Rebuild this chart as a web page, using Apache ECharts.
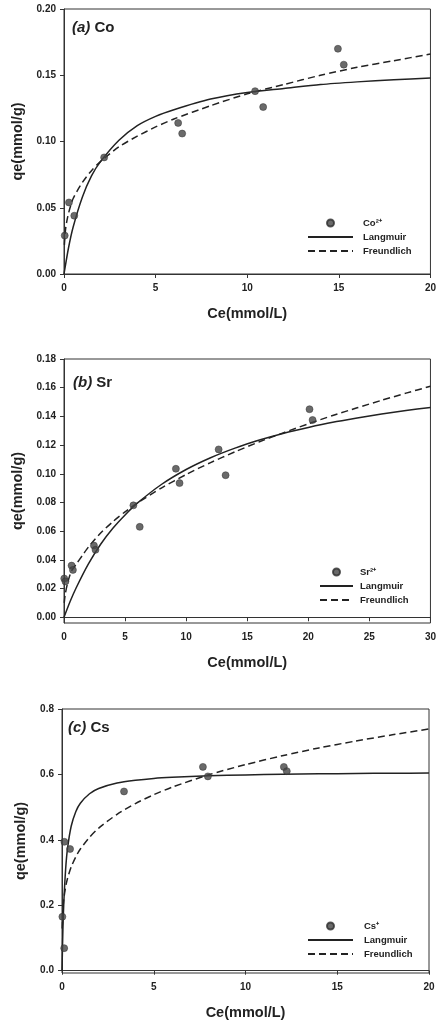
<!DOCTYPE html>
<html>
  <head>
    <meta charset="utf-8" />
    <title>Isotherms</title>
    <script src="https://cdn.jsdelivr.net/npm/echarts@6/dist/echarts.min.js"></script>
  </head>
  <body style="margin:0;background:#fff">
    <style>
      html, body { width: 439px; height: 1022px; }
      #main { width: 439px; height: 1022px; }
    </style>
    <div id="main"></div>
    <script type="text/javascript">
      // (a) Co
      var coCe = [0.04, 0.27, 0.56, 2.19, 6.23, 6.45, 10.43, 10.87, 14.95, 15.27];
      var coQe = [0.029, 0.054, 0.044, 0.088, 0.114, 0.106, 0.138, 0.126, 0.170, 0.158];
      var coLangCe = [0, 0.25, 0.5, 1, 1.5, 2, 3, 4, 5, 6, 8, 10, 12, 14, 16, 18, 20];
      var coLang = [0, 0.020, 0.0355, 0.058, 0.074, 0.085, 0.101, 0.112, 0.119, 0.124, 0.132, 0.137, 0.140, 0.143, 0.145, 0.1466, 0.148];
      var coFreuCe = [0.02, 0.1, 0.25, 0.5, 1, 1.5, 2, 3, 4, 5, 6, 8, 10, 12, 14, 16, 18, 20];
      var coFreu = [0.022, 0.0355, 0.046, 0.057, 0.069, 0.078, 0.085, 0.096, 0.104, 0.111, 0.117, 0.127, 0.136, 0.143, 0.150, 0.156, 0.161, 0.166];

      // (b) Sr
      var srCe = [0.02, 0.12, 0.62, 0.73, 2.45, 2.58, 5.68, 6.2, 9.16, 9.46, 12.66, 13.23, 20.1, 20.35];
      var srQe = [0.027, 0.025, 0.036, 0.033, 0.050, 0.047, 0.078, 0.063, 0.1035, 0.0935, 0.117, 0.099, 0.145, 0.1375];
      var srLangCe = [0, 0.5, 1, 2, 3, 4, 5, 6, 8, 10, 12, 14, 16, 18, 20, 22, 24, 26, 28, 30];
      var srLang = [0, 0.011, 0.0206, 0.0372, 0.0509, 0.062, 0.0713, 0.0795, 0.0927, 0.103, 0.1112, 0.1179, 0.1235, 0.1283, 0.1323, 0.1359, 0.1389, 0.1417, 0.1441, 0.1462];
      var srFreuCe = [0.02, 0.1, 0.3, 0.6, 1, 1.5, 2, 3, 4, 5, 6, 8, 10, 12, 14, 16, 18, 20, 22, 24, 26, 28, 30];
      var srFreu = [0.010, 0.016, 0.024, 0.032, 0.037, 0.043, 0.049, 0.0587, 0.0666, 0.0735, 0.0796, 0.0902, 0.0995, 0.1078, 0.1153, 0.1223, 0.1287, 0.1348, 0.1406, 0.146, 0.1512, 0.1562, 0.161];

      // (c) Cs
      var csCe = [0.02, 0.12, 0.13, 0.44, 3.38, 7.68, 7.95, 12.09, 12.25];
      var csQe = [0.165, 0.069, 0.394, 0.372, 0.548, 0.623, 0.594, 0.623, 0.610];
      var csLangCe = [0, 0.05, 0.1, 0.2, 0.3, 0.5, 0.75, 1, 1.5, 2, 3, 4, 5, 6, 8, 10, 12, 14, 16, 18, 20];
      var csLang = [0, 0.127, 0.210, 0.312, 0.373, 0.4415, 0.486, 0.512, 0.541, 0.557, 0.5735, 0.582, 0.5876, 0.591, 0.5958, 0.5986, 0.6004, 0.6018, 0.6028, 0.6036, 0.6042];
      var csFreuCe = [0.01, 0.05, 0.1, 0.2, 0.3, 0.5, 0.75, 1, 1.5, 2, 3, 4, 5, 6, 8, 10, 12, 14, 16, 18, 20];
      var csFreu = [0.129, 0.187, 0.220, 0.257, 0.282, 0.317, 0.348, 0.372, 0.408, 0.436, 0.478, 0.511, 0.538, 0.561, 0.599, 0.630, 0.657, 0.681, 0.702, 0.721, 0.739];

      var panelTitles = ['{i|(a)} Co', '{i|(b)} Sr', '{i|(c)} Cs'];
      var ionNames = ['Co²⁺', 'Sr²⁺', 'Cs⁺'];
      var yTicksB = [0, 0.02, 0.04, 0.06, 0.08, 0.10, 0.12, 0.14, 0.16, 0.18];
      var yTicksC = [0, 0.2, 0.4, 0.6, 0.8];

      var FONT = '"Liberation Sans", Arial, sans-serif';
      var INK = '#222';

      function zip(xs, ys) {
        return xs.map(function (x, i) { return [x, ys[i]]; });
      }

      var myChart = echarts.init(document.getElementById('main'));

      var grids = [
        { left: 64, top: 9, width: 368, height: 265 },
        { left: 64, top: 359, width: 368, height: 264 },
        { left: 62, top: 709, width: 367, height: 264 }
      ].map(function (g) {
        return Object.assign({ show: true, borderColor: '#333', borderWidth: 1, backgroundColor: 'transparent' }, g);
      });

      var nameStyle = { fontFamily: FONT, fontWeight: 'bold', fontSize: 14.5, color: INK };
      var labelBase = { fontFamily: FONT, fontWeight: 'bold', fontSize: 10, color: INK, margin: 8 };

      function xAxis(idx, max) {
        return {
          gridIndex: idx, type: 'value', min: 0, max: max, interval: 5,
          name: 'Ce(mmol/L)', nameLocation: 'middle', nameGap: 32,
          nameTextStyle: nameStyle,
          axisLine: { lineStyle: { color: '#333', width: 1 } },
          axisTick: { length: 4, lineStyle: { color: '#333' } },
          axisLabel: Object.assign({}, labelBase, { margin: 9 }),
          splitLine: { show: false }
        };
      }
      function yAxis(idx, extra) {
        return Object.assign({
          gridIndex: idx, type: 'value',
          name: 'qe(mmol/g)', nameLocation: 'middle', nameGap: 34, nameRotate: 90,
          nameTextStyle: nameStyle,
          axisLine: { lineStyle: { color: '#333', width: 1 } },
          splitLine: { show: false }
        }, extra);
      }

      function legend(left, top, w, ion, gap) {
        return {
          orient: 'vertical', left: left, top: top, padding: 0,
          itemWidth: w, itemHeight: 7, itemGap: 4,
          data: [
            { name: ion },
            { name: 'Langmuir', itemStyle: { opacity: 0 } },
            { name: 'Freundlich', itemStyle: { opacity: 0 } }
          ],
          textStyle: { fontFamily: FONT, fontWeight: 'bold', fontSize: 9.5, color: INK, lineHeight: 10, padding: [0, 0, 0, gap] },
          selectedMode: false
        };
      }

      function series(idx, ion, ce, qe, lce, lq, fce, fq) {
        return [{
          name: ion, type: 'scatter', xAxisIndex: idx, yAxisIndex: idx,
          symbol: 'circle', symbolSize: 7,
          itemStyle: { color: '#454545', borderColor: '#2e2e2e', borderWidth: 0.6 },
          data: zip(ce, qe), z: 3
        }, {
          name: 'Langmuir', type: 'line', xAxisIndex: idx, yAxisIndex: idx,
          symbol: 'none', smooth: 0.25,
          lineStyle: { color: '#222', width: 1.5, type: 'solid' },
          itemStyle: { color: '#222' },
          data: zip(lce, lq), z: 2
        }, {
          name: 'Freundlich', type: 'line', xAxisIndex: idx, yAxisIndex: idx,
          symbol: 'none', smooth: 0.25,
          lineStyle: { color: '#222', width: 1.5, type: [7, 4] },
          itemStyle: { color: '#222' },
          data: zip(fce, fq), z: 2
        }];
      }

      var titleStyle = {
        fontFamily: FONT, fontWeight: 'bold', fontSize: 15, color: INK,
        rich: { i: { fontFamily: FONT, fontWeight: 'bold', fontStyle: 'italic', fontSize: 15, color: INK } }
      };

      var option = {
        animation: false,
        backgroundColor: '#fff',
        title: [
          { text: panelTitles[0], left: 72, top: 20, padding: 0, textStyle: titleStyle },
          { text: panelTitles[1], left: 73, top: 375, padding: 0, textStyle: titleStyle },
          { text: panelTitles[2], left: 68, top: 720, padding: 0, textStyle: titleStyle }
        ],
        grid: grids,
        legend: [
          legend(307, 218, 45, ionNames[0], 5),
          legend(319, 567, 33, ionNames[1], 2),
          legend(307, 921, 45, ionNames[2], 6)
        ],
        xAxis: [xAxis(0, 20), xAxis(1, 30), xAxis(2, 20)],
        yAxis: [
          yAxis(0, {
            min: 0, max: 0.2, interval: 0.05,
            axisTick: { length: 4, lineStyle: { color: '#333' } },
            axisLabel: Object.assign({ formatter: function (v) { return v.toFixed(2); } }, labelBase)
          }),
          yAxis(1, {
            min: -0.004, max: 0.18,
            axisTick: { length: 4, lineStyle: { color: '#333' }, customValues: yTicksB },
            axisLabel: Object.assign({ customValues: yTicksB, formatter: function (v) { return v.toFixed(2); } }, labelBase)
          }),
          yAxis(2, {
            min: -0.007, max: 0.8,
            axisTick: { length: 4, lineStyle: { color: '#333' }, customValues: yTicksC },
            axisLabel: Object.assign({ customValues: yTicksC, formatter: function (v) { return v.toFixed(1); } }, labelBase)
          })
        ],
        series: []
          .concat(series(0, ionNames[0], coCe, coQe, coLangCe, coLang, coFreuCe, coFreu))
          .concat(series(1, ionNames[1], srCe, srQe, srLangCe, srLang, srFreuCe, srFreu))
          .concat(series(2, ionNames[2], csCe, csQe, csLangCe, csLang, csFreuCe, csFreu))
      };

      myChart.setOption(option);
    </script>
  </body>
</html>
